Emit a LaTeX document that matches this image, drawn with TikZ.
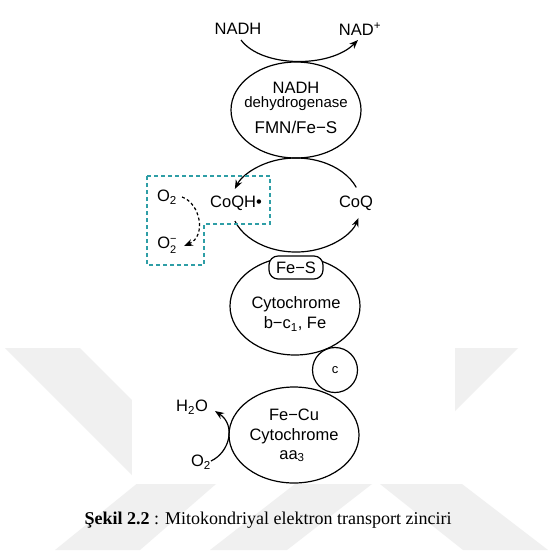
\documentclass[tikz,border=0pt]{standalone}
\usepackage{fontspec}
\setmainfont{Liberation Sans}
\newfontfamily\capfont{Liberation Serif}
\usetikzlibrary{shapes.geometric,arrows.meta}
\definecolor{teal1}{HTML}{2E9EA6}
\definecolor{wm}{HTML}{F0F0F0}
\newcommand{\subsup}[2]{{\fontsize{11}{11}\selectfont\begin{tabular}[c]{@{}l@{}}#2\\#1\end{tabular}}}
\begin{document}
\begin{tikzpicture}[x=1pt,y=-1pt,
  lbl/.style={font=\fontsize{16.5}{18}\selectfont, inner sep=0pt},
  comp/.style={draw, ellipse, line width=1.2pt, inner sep=0pt},
  arr/.style={line width=1.2pt, -{Stealth[length=9pt,width=7pt]}},
  darr/.style={line width=1.2pt, dash pattern=on 3pt off 2.5pt, -{Stealth[length=9pt,width=7pt]}},
  box/.style={draw=teal1, line width=1.8pt, dash pattern=on 4pt off 3pt},
  wmark/.style={fill=wm}
  ]
\useasboundingbox (0,0) rectangle (553,550);
\fill[white] (0,0) rectangle (553,550);
% watermark
\fill[wmark] (5,348) -- (80,348) -- (216,484) -- (140,550) -- (55,550) -- (139,482) -- cycle;
\fill[wmark] (210,550) -- (287,550) -- (372,484) -- (295,484) -- cycle;
\fill[wmark] (455,348) -- (518,348) -- (455,411) -- cycle;
\fill[wmark] (380,484) -- (462,484) -- (548,550) -- (463,550) -- cycle;
\fill[white] (132,0) rectangle (455,484);

% top NADH
\node[lbl] (nadh) at (238,29) {NADH};
\node[lbl] (nadp) at (360,29) {NAD\textsuperscript{+}};
\coordinate (n1) at (241,40);
\coordinate (n2) at (358,40);
\draw[arr] (n1) .. controls (262,68) and (330,68) .. (n2);

% complex I
\node[comp, minimum width=130pt, minimum height=96pt] (e1) at (296,110) {};
\node[lbl] (e1a) at (296,88) {NADH};
\node[lbl, font=\fontsize{15}{17}\selectfont] (e1b) at (296,104) {dehydrogenase};
\node[lbl, font=\fontsize{17}{19}\selectfont] (e1c) at (296,127) {FMN/Fe−S};

% CoQ cycle
\coordinate (e2) at (296,205);
\draw[arr] (e2) ++(-22:65 and 47) arc[start angle=-22, end angle=-160, x radius=65, y radius=47];
\draw[arr] (e2) ++(160:65 and 47) arc[start angle=160, end angle=16, x radius=65, y radius=47];
\node[lbl] (coqh) at (236,203) {CoQH•};
\node[lbl] (coq) at (356,203) {CoQ};

% ROS box
\draw[box] (147,176) -- (270,176) -- (270,224) -- (204,224) -- (204,265) -- (147,265) -- cycle;
\node[lbl] (o2a) at (167,197) {O\textsubscript{2}};
\node[lbl] (o2b) at (167,246) {O\subsup{2}{−}};
\coordinate (d1) at (182,197);
\coordinate (d2) at (184,246);
\draw[darr] (d1) .. controls (200,203) and (207,236) .. (d2);

% complex III
\node[comp, minimum width=130pt, minimum height=98pt] (e3) at (295,306) {};
\node[draw, rounded corners=9pt, fill=white, line width=1.2pt, minimum width=54pt, minimum height=23pt, inner sep=0pt, font=\fontsize{16.5}{18}\selectfont] (fes) at (296,267.5) {Fe−S};
\node[lbl] (e3a) at (296,304) {Cytochrome};
\node[lbl] (e3b) at (295,324) {b−c\textsubscript{1}, Fe};

% cytochrome c
\node[draw, circle, line width=1.2pt, minimum size=45pt, inner sep=0pt] (cc) at (335,370) {};
\node[lbl, font=\fontsize{13}{15}\selectfont] (ct) at (335,370) {c};

% complex IV
\node[comp, minimum width=130pt, minimum height=96pt] (e4) at (294,435) {};
\node[lbl] (e4a) at (294,415) {Fe−Cu};
\node[lbl] (e4b) at (294,436) {Cytochrome};
\node[lbl] (e4c) at (292,456) {aa\textsubscript{3}};
\node[lbl] (h2o) at (192,407) {H\textsubscript{2}O};
\node[lbl] (o2c) at (201,462) {O\textsubscript{2}};
\coordinate (w1) at (211,461);
\coordinate (w2) at (215,411);
\draw[arr] (w1) .. controls (230,452) and (236,425) .. (w2);

% caption
\node[font=\capfont\fontsize{18}{21}\selectfont, inner sep=0pt] (cap) at (268,520) {\textbf{Şekil 2.2} : Mitokondriyal elektron transport zinciri};
\end{tikzpicture}
\end{document}
